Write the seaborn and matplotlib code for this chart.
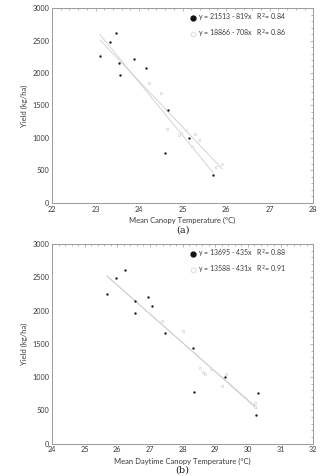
import pandas as pd
import seaborn as sns
import matplotlib.pyplot as plt
from matplotlib.ticker import MultipleLocator
from matplotlib.lines import Line2D

# (a) yield vs mean canopy temperature
a_black_temp = [23.10, 23.33, 23.48, 23.53, 23.56, 23.88, 24.16, 24.66, 24.60, 25.15, 25.70]
a_black_yield = [2256, 2481, 2620, 2153, 1968, 2214, 2071, 1428, 766, 995, 430]
a_grey_temp = [24.23, 24.50, 24.64, 24.92, 24.96, 25.08, 25.28, 25.37, 25.22, 25.76, 25.91]
a_grey_yield = [1840, 1695, 1131, 1048, 1069, 1125, 1059, 966, 869, 550, 601]
a_fits = [(21513, 819, 0.84), (18866, 708, 0.86)]

# (b) yield vs mean daytime canopy temperature
b_black_temp = [25.68, 25.96, 26.23, 26.53, 26.53, 26.95, 27.07, 27.45, 28.33, 28.35, 29.29, 30.30, 30.24]
b_black_yield = [2258, 2484, 2619, 2152, 1967, 2213, 2073, 1662, 1436, 774, 999, 763, 432]
b_grey_temp = [27.38, 28.01, 28.53, 28.61, 28.70, 28.87, 29.32, 29.20, 30.22, 30.22]
b_grey_yield = [1842, 1701, 1135, 1084, 1049, 1124, 1049, 873, 608, 557]
b_fits = [(13695, 435, 0.88), (13588, 431, 0.91)]

TXT = "#3a3a3a"
EDGE = "#9a9a9a"


def panel(ax, bt, by, gt, gy, fits, xlim, xlabel, tag):
    df = pd.concat([
        pd.DataFrame({"temp": bt, "yield": by, "grp": "black"}),
        pd.DataFrame({"temp": gt, "yield": gy, "grp": "grey"}),
    ])

    # regression lines from the legend equations
    x0 = df["temp"].min()
    for (a, b, r2), grp in zip(fits, ["black", "grey"]):
        x1 = df.loc[df["grp"] == grp, "temp"].max()
        line = pd.DataFrame({"temp": [x0, x1]})
        line["yield"] = a - b * line["temp"]
        sns.lineplot(data=line, x="temp", y="yield", ax=ax, color="#cdcdcd", lw=0.6)

    sns.scatterplot(data=df[df.grp == "black"], x="temp", y="yield", ax=ax,
                    color="#1e1e1e", s=3, linewidth=0, zorder=3)
    sns.scatterplot(data=df[df.grp == "grey"], x="temp", y="yield", ax=ax,
                    facecolor="white", edgecolor="#d4d4d4", s=3, linewidth=0.5, zorder=3)

    ax.set_xlim(*xlim)
    ax.set_ylim(0, 3000)
    ax.xaxis.set_major_locator(MultipleLocator(1))
    ax.xaxis.set_minor_locator(MultipleLocator(0.2))
    ax.yaxis.set_major_locator(MultipleLocator(500))
    ax.yaxis.set_minor_locator(MultipleLocator(100))
    ax.tick_params(which="both", direction="in", top=True, right=True,
                   color=EDGE, width=0.5, labelsize=5.2, labelcolor=TXT, pad=2)
    ax.tick_params(which="major", length=2.5)
    ax.tick_params(which="minor", length=1.5)
    for sp in ax.spines.values():
        sp.set_color(EDGE)
        sp.set_linewidth(0.7)
    ax.set_xlabel(xlabel, fontsize=5.5, color=TXT, labelpad=3)
    ax.set_ylabel("Yield (kg/ha)", fontsize=5.5, color=TXT, labelpad=3)

    labels = [f"y = {a} - {b}x   R$^2$= {r2:.2f}" for a, b, r2 in fits]
    handles = [
        Line2D([], [], ls="", marker="o", ms=3.5, mfc="#111111", mec="#111111"),
        Line2D([], [], ls="", marker="o", ms=3.5, mfc="white", mec="#d0d0d0", mew=0.5),
    ]
    ax.legend(handles, labels, loc="upper left", bbox_to_anchor=(0.515, 0.995),
              frameon=False, fontsize=5, labelcolor=TXT, handletextpad=0.3,
              labelspacing=0.55, handlelength=1.0, borderaxespad=0)

    ax.text(0.5, tag[1], tag[0], transform=ax.transAxes, ha="center", va="top",
            fontsize=7, color="#222222", family="DejaVu Serif")


sns.set_theme(style="white")
plt.rcParams["font.family"] = ["Lato", "DejaVu Sans"]

fig = plt.figure(figsize=(3.29, 4.76), dpi=100)
ax1 = fig.add_axes([0.158, 0.574, 0.794, 0.409])
ax2 = fig.add_axes([0.158, 0.068, 0.794, 0.419])

panel(ax1, a_black_temp, a_black_yield, a_grey_temp, a_grey_yield, a_fits,
      (22, 28), "Mean Canopy Temperature (°C)", ("(a)", -0.115))
panel(ax2, b_black_temp, b_black_yield, b_grey_temp, b_grey_yield, b_fits,
      (24, 32), "Mean Daytime Canopy Temperature (°C)", ("(b)", -0.11))

fig.savefig("out.png", dpi=100)
